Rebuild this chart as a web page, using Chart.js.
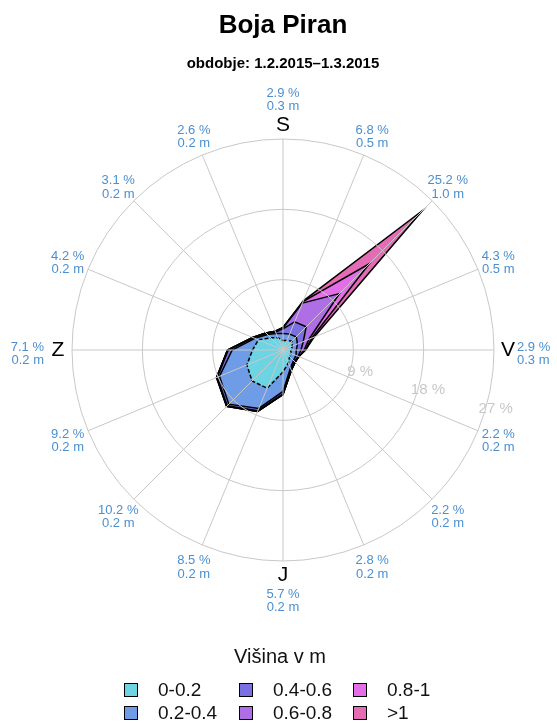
<!DOCTYPE html>
<html>
<head>
<meta charset="utf-8">
<script src="https://cdn.jsdelivr.net/npm/chart.js@4.4.1/dist/chart.umd.min.js"></script>
<style>
  html, body { margin: 0; padding: 0; background: #fff; }
  #wrap { width: 557px; height: 723px; }
</style>
</head>
<body>
<div id="wrap"><canvas id="rose" width="557" height="723"></canvas></div>
<script>
// smeri (S = sever na vrhu, v smeri urinega kazalca)
const directions = ["S", "SSV", "SV", "VSV", "V", "VJV", "JV", "JJV", "J", "JJZ", "JZ", "ZJZ", "Z", "ZSZ", "SZ", "SSZ"];
const cardinals = { 0: "S", 4: "V", 8: "J", 12: "Z" };

const heightClasses = ["0-0.2", "0.2-0.4", "0.4-0.6", "0.6-0.8", "0.8-1", ">1"];
const classColors = ["#6cd4e2", "#6f9ce6", "#7a70e4", "#b06ee6", "#e46ee8", "#e46cb4"];

// delez casa (%) po smeri za vsak razred visine valov
const h0to02 = [1.2, 1.3, 1.6, 1.3, 1.0, 1.1, 1.2, 1.8, 2.8, 5.3, 5.6, 5.0, 3.9, 3.4, 2.2, 1.7];
const h02to04 = [0.9, 0.9, 0.8, 0.7, 0.7, 0.7, 0.7, 0.7, 2.5, 2.8, 4.2, 3.8, 2.6, 0.5, 0.6, 0.6];
const h04to06 = [0.6, 1.7, 1.8, 0.8, 0.6, 0.3, 0.2, 0.2, 0.3, 0.3, 0.3, 0.3, 0.5, 0.2, 0.2, 0.2];
const h06to08 = [0.1, 2.6, 6.0, 0.8, 0.4, 0.1, 0.1, 0.1, 0.1, 0.1, 0.1, 0.1, 0.1, 0.1, 0.1, 0.1];
const h08to1 = [0.1, 0.2, 5.4, 0.4, 0.15, 0, 0, 0, 0, 0, 0, 0, 0, 0, 0, 0];
const hOver1 = [0, 0.1, 9.6, 0.3, 0.05, 0, 0, 0, 0, 0, 0, 0, 0, 0, 0, 0];

// oznake ob robu: skupni delez in srednja visina po smeri
const dirPercent = [2.9, 6.8, 25.2, 4.3, 2.9, 2.2, 2.2, 2.8, 5.7, 8.5, 10.2, 9.2, 7.1, 4.2, 3.1, 2.6];
const dirMeanHeight = [0.3, 0.5, 1.0, 0.5, 0.3, 0.2, 0.2, 0.2, 0.2, 0.2, 0.2, 0.2, 0.2, 0.2, 0.2, 0.2];

const radialTicks = [9, 18, 27];

const FONT = '"Liberation Sans", Arial, sans-serif';

// kumulativne vrednosti - vsak razred lezi na prejsnjem
const classData = [h0to02, h02to04, h04to06, h06to08, h08to1, hOver1];
const running = directions.map(() => 0);
const datasets = classData.map((vals, k) => {
  const cum = vals.map((v, i) => {
    running[i] += v;
    return +running[i].toFixed(2);
  });
  return {
    label: heightClasses[k],
    data: cum,
    backgroundColor: classColors[k],
    borderColor: "#000",
    borderWidth: 1.5,
    borderDash: k === 0 ? [4, 2] : [],
    fill: "origin",
    pointRadius: 0,
    pointHoverRadius: 0,
    tension: 0
  };
});

const roseLabels = {
  id: "roseLabels",
  afterDraw(chart) {
    const r = chart.scales.r;
    const ctx = chart.ctx;
    const cx = r.xCenter, cy = r.yCenter;
    ctx.save();

    // oznake obrocev
    ctx.font = "15px " + FONT;
    ctx.fillStyle = "#c8c8c8";
    ctx.textAlign = "center";
    ctx.textBaseline = "middle";
    const a = 105.5 * Math.PI / 180;
    radialTicks.forEach(v => {
      const d = r.getDistanceFromCenterForValue(v) + 9.7;
      ctx.fillText(v + " %", cx + d * Math.sin(a), cy - d * Math.cos(a));
    });

    // strani neba
    ctx.font = "21px " + FONT;
    ctx.fillStyle = "#000";
    Object.keys(cardinals).forEach(i => {
      const p = r.getPointPosition(+i, 225);
      ctx.fillText(cardinals[i], p.x, p.y);
    });

    // delez in visina po smereh
    ctx.font = "13px " + FONT;
    ctx.fillStyle = "#4b8fd0";
    directions.forEach((dir, i) => {
      const l1 = dirPercent[i].toFixed(1) + " %";
      const l2 = dirMeanHeight[i].toFixed(1) + " m";
      if (i === 0) {
        ctx.textAlign = "center";
        ctx.fillText(l1, cx, cy - 257);
        ctx.fillText(l2, cx, cy - 243.5);
      } else if (i === 8) {
        ctx.textAlign = "center";
        ctx.fillText(l1, cx, cy + 244);
        ctx.fillText(l2, cx, cy + 257.5);
      } else if (i === 4) {
        ctx.textAlign = "left";
        ctx.fillText(l1, cx + 234, cy - 2.5);
        ctx.fillText(l2, cx + 234, cy + 10.5);
      } else if (i === 12) {
        ctx.textAlign = "right";
        ctx.fillText(l1, cx - 239, cy - 2.5);
        ctx.fillText(l2, cx - 239, cy + 10.5);
      } else {
        const p = r.getPointPosition(i, 233);
        ctx.textAlign = "center";
        ctx.fillText(l1, p.x, p.y + 2 - 6.75);
        ctx.fillText(l2, p.x, p.y + 2 + 6.75);
      }
    });

    // legenda
    ctx.fillStyle = "#111";
    ctx.textAlign = "center";
    ctx.font = "20px " + FONT;
    ctx.fillText("Višina v m", 280, 657);
    ctx.font = "19px " + FONT;
    ctx.textAlign = "left";
    const colX = [124, 239, 353];
    const rowY = [690, 713];
    chart.data.datasets.forEach((ds, k) => {
      const col = Math.floor(k / 2), row = k % 2;
      const x = colX[col], y = rowY[row];
      ctx.fillStyle = ds.backgroundColor;
      ctx.fillRect(x, y - 7, 14, 14);
      ctx.strokeStyle = "#000";
      ctx.lineWidth = 1;
      ctx.strokeRect(x + 0.5, y - 6.5, 13, 13);
      ctx.fillStyle = "#111";
      ctx.fillText(ds.label, x + 34, y + 1);
    });
    ctx.restore();
  }
};

new Chart(document.getElementById("rose"), {
  type: "radar",
  data: { labels: directions, datasets: datasets },
  plugins: [roseLabels],
  options: {
    responsive: false,
    animation: false,
    devicePixelRatio: 1,
    layout: { padding: { top: 0, left: 72, right: 63, bottom: 162 } },
    scales: {
      r: {
        min: 0,
        max: 27,
        ticks: { stepSize: 9, display: false },
        grid: { color: "#c8c8c8", lineWidth: 1, circular: true, z: 1 },
        angleLines: { color: "#c8c8c8", lineWidth: 1 },
        pointLabels: { display: false }
      }
    },
    plugins: {
      legend: { display: false },
      tooltip: { enabled: false },
      title: {
        display: true,
        text: "Boja Piran",
        color: "#000",
        font: { family: FONT, size: 26, weight: "bold" },
        padding: { top: 10, bottom: 4 }
      },
      subtitle: {
        display: true,
        text: "obdobje: 1.2.2015–1.3.2015",
        color: "#000",
        font: { family: FONT, size: 15, weight: "bold" },
        padding: { top: 10, bottom: 65.8 }
      }
    }
  }
});
</script>
</body>
</html>
